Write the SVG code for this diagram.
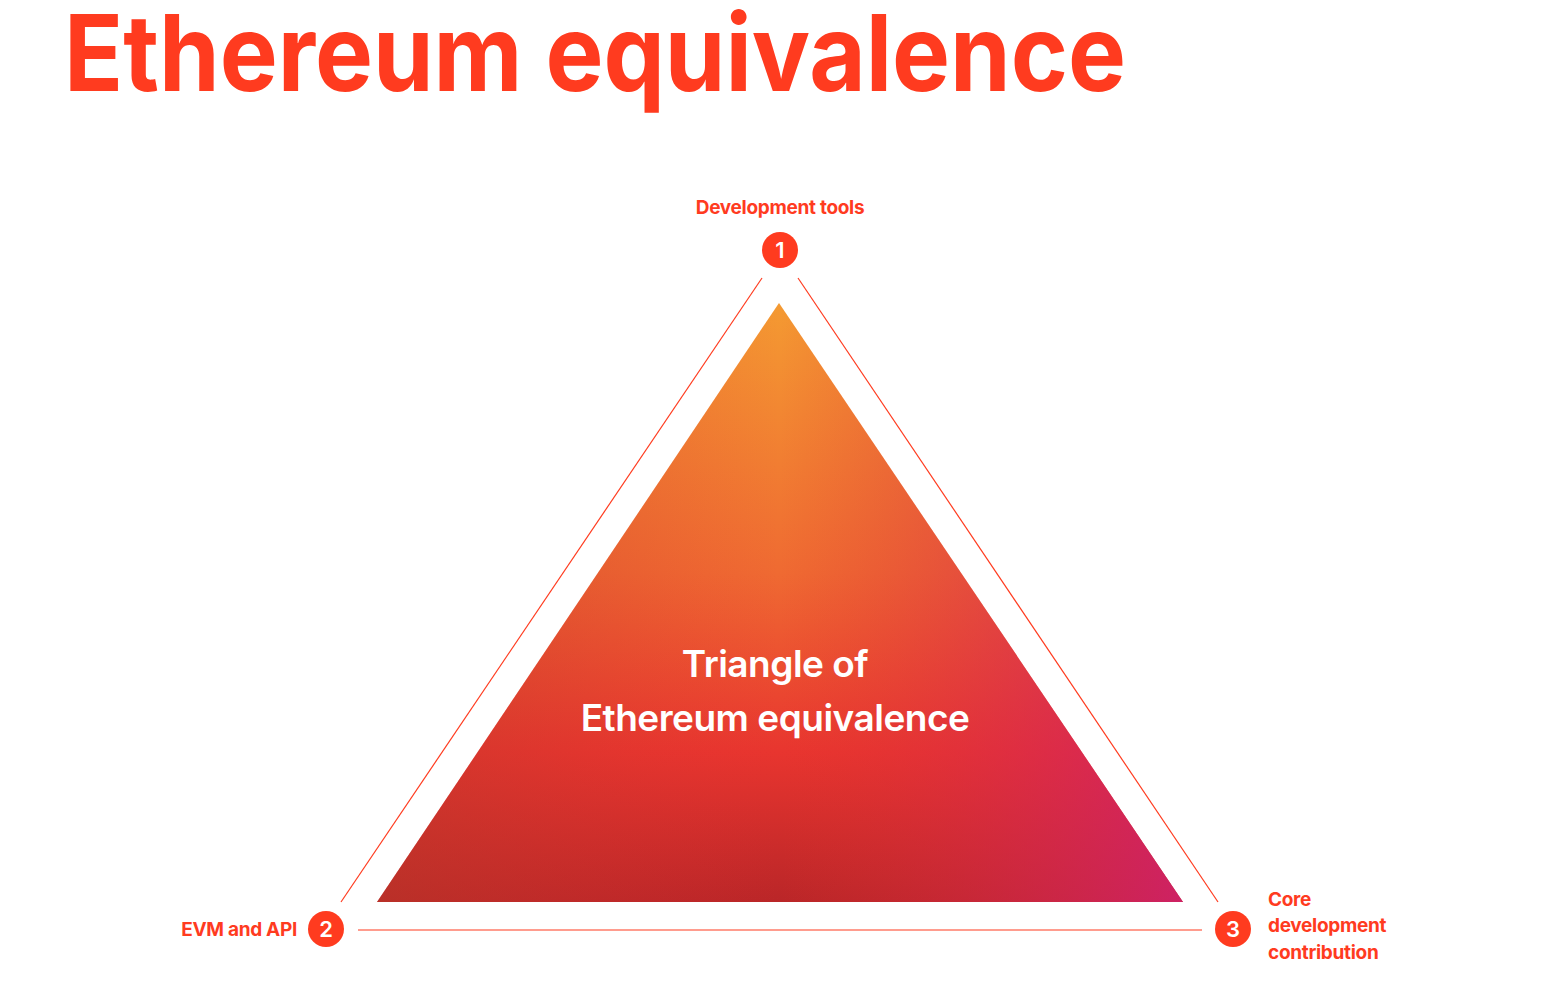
<svg xmlns="http://www.w3.org/2000/svg" width="1546" height="988" viewBox="0 0 1546 988">
<style>
.t{font-family:"Inter","Liberation Sans",sans-serif;font-weight:700;fill:#FF3B1F}
.lab{font-size:19px;letter-spacing:-0.3px}
.num{font-family:"Inter","Liberation Sans",sans-serif;font-weight:600;fill:#fff;font-size:22px;text-anchor:middle}
.ln{stroke:#FF3B1F;stroke-width:1.2;fill:none}
.c{fill:#FF3B1F}
.w{font-family:"Inter","Liberation Sans",sans-serif;font-weight:600;font-size:37px;fill:#fff;text-anchor:middle;letter-spacing:-0.5px}
</style>
<defs>
<linearGradient id="gv" x1="0" y1="303" x2="0" y2="902" gradientUnits="userSpaceOnUse">
<stop offset="0" stop-color="#F49A32"/>
<stop offset="0.45" stop-color="#EF6A32"/>
<stop offset="0.75" stop-color="#E8352F"/>
<stop offset="1" stop-color="#BA2628"/>
</linearGradient>
<linearGradient id="gh" x1="377" y1="0" x2="1183" y2="0" gradientUnits="userSpaceOnUse">
<stop offset="0" stop-color="#B83A28" stop-opacity="0.5"/>
<stop offset="0.5" stop-color="#E0302F" stop-opacity="0"/>
<stop offset="1" stop-color="#D0216A" stop-opacity="0.9"/>
</linearGradient>
</defs>
<text class="t" x="64" y="91" font-size="106" textLength="1062" lengthAdjust="spacingAndGlyphs">Ethereum equivalence</text>
<g id="triangle">
<polygon points="779,303 377,902 1183,902" fill="url(#gv)"/>
<polygon points="779,303 377,902 1183,902" fill="url(#gh)"/>
<text class="w" x="775" y="677">Triangle of</text>
<text class="w" x="775" y="731">Ethereum equivalence</text>
</g>
<g id="connectors">
<line class="ln" x1="762" y1="278" x2="341" y2="902"/>
<line class="ln" x1="798" y1="278" x2="1218" y2="902"/>
<line class="ln" x1="358" y1="930" x2="1202" y2="930"/>
</g>
<g id="node1">
<text class="t lab" x="780" y="214" text-anchor="middle">Development tools</text>
<circle class="c" cx="780" cy="250" r="18"/>
<text class="num" x="780" y="258">1</text>
</g>
<g id="node2">
<text class="t lab" x="297" y="936" text-anchor="end">EVM and API</text>
<circle class="c" cx="326" cy="929" r="18"/>
<text class="num" x="326" y="937">2</text>
</g>
<g id="node3">
<circle class="c" cx="1233" cy="929" r="18"/>
<text class="num" x="1233" y="937">3</text>
<text class="t lab" x="1268" y="906">Core</text>
<text class="t lab" x="1268" y="932">development</text>
<text class="t lab" x="1268" y="959">contribution</text>
</g>
</svg>
